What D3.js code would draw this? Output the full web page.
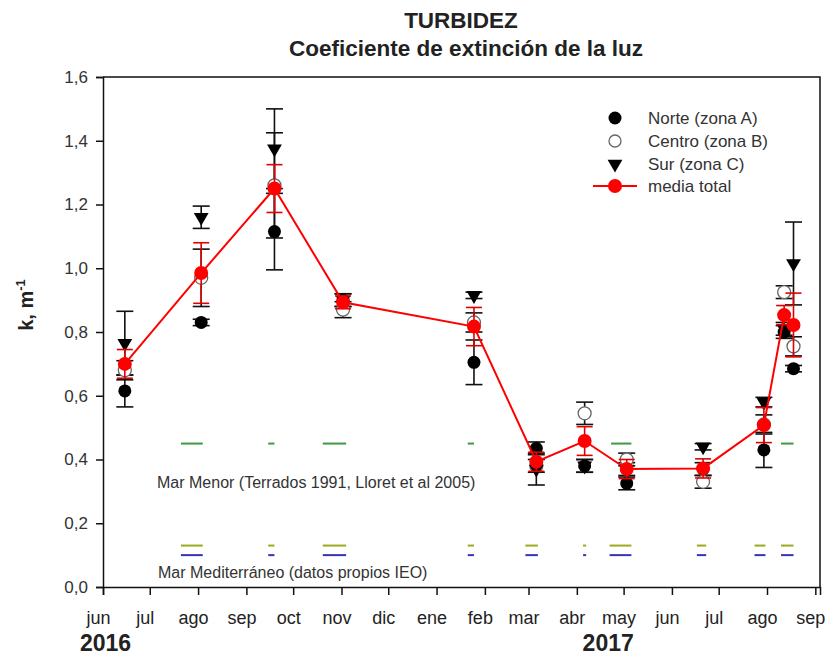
<!DOCTYPE html>
<html>
<head>
<meta charset="utf-8">
<script src="https://cdn.jsdelivr.net/npm/d3@7"></script>
<style>
  html, body { margin: 0; padding: 0; background: #fff; }
  svg { display: block; font-family: Arial, "Liberation Sans", sans-serif; }
</style>
</head>
<body>
<svg id="chart" width="827" height="657"></svg>
<script>
// Sampling dates (campaigns)
const sampleDates = ["2016-06-15","2016-08-03","2016-09-19","2016-11-02","2017-01-25","2017-03-06",
                     "2017-04-06","2017-05-03","2017-06-21","2017-07-30","2017-08-12","2017-08-18"];

// Light extinction coefficient k (m^-1) per zone, with error
const norteVals  = [0.615, 0.83, 1.115, 0.90, 0.705, 0.435, 0.38, 0.325, 0.37, 0.43, 0.80, 0.685];
const norteErr   = [0.05, 0.01, 0.12, 0.02, 0.07, 0.02, 0.02, 0.02, 0.02, 0.055, 0.02, 0.01];
const centroVals = [0.68, 0.97, 1.26, 0.87, 0.83, 0.38, 0.545, 0.40, 0.33, 0.51, 0.925, 0.755];
const centroErr  = [0.03, 0.09, 0.165, 0.025, 0.03, 0.02, 0.035, 0.02, 0.02, 0.03, 0.02, 0.03];
const surVals    = [0.765, 1.16, 1.375, 0.90, 0.915, 0.37, 0.38, 0.37, 0.44, 0.58, 0.81, 1.015];
const surErr     = [0.10, 0.035, 0.125, 0.02, 0.01, 0.05, 0.02, 0.02, 0.01, 0.015, 0.02, 0.13];
const mediaVals  = [0.70, 0.985, 1.25, 0.893, 0.817, 0.393, 0.458, 0.37, 0.372, 0.508, 0.853, 0.822];
const mediaErr   = [0.045, 0.095, 0.075, 0.02, 0.06, 0.03, 0.045, 0.03, 0.03, 0.055, 0.03, 0.10];

// Reference levels
const marMenorLevel = 0.45;
const marMenorSegments = [["2016-07-21","2016-08-04"],["2016-09-15","2016-09-19"],["2016-10-20","2016-11-04"],
                          ["2017-01-21","2017-01-25"],["2017-04-23","2017-05-06"],["2017-08-10","2017-08-18"]];
const medLevels = [0.13, 0.10];
const medSegments = [["2016-07-21","2016-08-04"],["2016-09-15","2016-09-19"],["2016-10-20","2016-11-04"],
                     ["2017-01-21","2017-01-25"],["2017-02-27","2017-03-07"],["2017-04-05","2017-04-07"],
                     ["2017-04-22","2017-05-06"],["2017-06-17","2017-06-23"],["2017-07-24","2017-07-31"],
                     ["2017-08-10","2017-08-18"]];

const monthLabels = ["jun","jul","ago","sep","oct","nov","dic","ene","feb","mar","abr","may","jun","jul","ago","sep"];
const yearLabels = ["2016","2017"];
const yTicks = [0, 0.2, 0.4, 0.6, 0.8, 1.0, 1.2, 1.4, 1.6];
const legendLabels = ["Norte (zona A)","Centro (zona B)","Sur (zona C)","media total"];

const parse = d3.utcParse("%Y-%m-%d");
const dates = sampleDates.map(parse);

const svg = d3.select("#chart");
const L = 103, R = 820, T = 77, B = 587;

const x = d3.scaleUtc().domain([new Date(Date.UTC(2016,5,1)), new Date(Date.UTC(2017,8,4))]).range([L, R]);
const y = d3.scaleLinear().domain([0, 1.6]).range([B, T]);

const es = d3.formatLocale({decimal: ",", thousands: ".", grouping: [3], currency: ["", "€"]});
const fmt = es.format(".1f");

// Title
svg.append("text").attr("x", 461).attr("y", 28).attr("text-anchor", "middle")
  .attr("font-size", 22.5).attr("font-weight", "bold").attr("fill", "#222").text("TURBIDEZ");
svg.append("text").attr("x", 466).attr("y", 56).attr("text-anchor", "middle")
  .attr("font-size", 22.5).attr("font-weight", "bold").attr("fill", "#222").text("Coeficiente de extinción de la luz");

// Frame
svg.append("path").attr("d", `M${L},${T}H${R}V${B}`).attr("fill", "none").attr("stroke", "#111").attr("stroke-width", 1.5);

// Axes
const monthTicks = d3.utcMonth.range(new Date(Date.UTC(2016,5,1)), new Date(Date.UTC(2017,8,2)));
const xAxis = svg.append("g").attr("transform", `translate(0,${B})`)
  .call(d3.axisBottom(x).tickValues(monthTicks).tickSizeOuter(0).tickSize(8).tickPadding(16)
    .tickFormat((d, i) => monthLabels[i]));
xAxis.select(".domain").attr("stroke", "#111").attr("stroke-width", 1.5);
xAxis.selectAll(".tick line").attr("stroke", "#111").attr("stroke-width", 1.5);
xAxis.selectAll(".tick text").attr("font-size", 18).attr("fill", "#222").attr("dx", -5)
  .attr("font-family", "Arial, 'Liberation Sans', sans-serif");

const yAxis = svg.append("g").attr("transform", `translate(${L},0)`)
  .call(d3.axisLeft(y).tickValues(yTicks).tickSizeOuter(0).tickSize(7).tickPadding(8).tickFormat(fmt));
yAxis.select(".domain").attr("stroke", "#111").attr("stroke-width", 1.5);
yAxis.selectAll(".tick line").attr("stroke", "#111").attr("stroke-width", 1.5);
yAxis.selectAll(".tick text").attr("font-size", 17).attr("fill", "#333")
  .attr("font-family", "Arial, 'Liberation Sans', sans-serif");

// Year labels
const yearX = [new Date(Date.UTC(2016,5,1)), new Date(Date.UTC(2017,4,1))];
svg.selectAll(".year").data(yearLabels).join("text").attr("class", "year")
  .attr("x", (d, i) => x(yearX[i]) - 23 + (i ? -18 : 0)).attr("y", 651)
  .attr("font-size", 23).attr("font-weight", "bold").attr("fill", "#222").text(d => d);

// Y axis title
const yt = svg.append("text").attr("transform", "translate(33,305) rotate(-90)")
  .attr("text-anchor", "middle").attr("font-size", 20).attr("font-weight", "bold").attr("fill", "#222");
yt.append("tspan").text("k, m");
yt.append("tspan").attr("dy", -8).attr("font-size", 13).text("-1");

// Reference lines
svg.append("g").selectAll("line").data(marMenorSegments).join("line")
  .attr("x1", d => x(parse(d[0]))).attr("x2", d => x(parse(d[1])))
  .attr("y1", y(marMenorLevel)).attr("y2", y(marMenorLevel))
  .attr("stroke", "#3f9a3f").attr("stroke-width", 2);
const medColors = ["#9aaa1e", "#3434b4"];
medLevels.forEach((lv, k) => {
  svg.append("g").selectAll("line").data(medSegments).join("line")
    .attr("x1", d => x(parse(d[0]))).attr("x2", d => x(parse(d[1])))
    .attr("y1", y(lv)).attr("y2", y(lv))
    .attr("stroke", medColors[k]).attr("stroke-width", 2);
});
svg.append("text").attr("x", 157).attr("y", 488).attr("font-size", 16).attr("fill", "#333")
  .text("Mar Menor (Terrados 1991, Lloret et al 2005)");
svg.append("text").attr("x", 158).attr("y", 578).attr("font-size", 16).attr("fill", "#333")
  .text("Mar Mediterráneo (datos propios IEO)");

// Error bars helper
function errorBars(vals, errs, color, cap) {
  const g = svg.append("g").attr("stroke", color).attr("stroke-width", 1.6);
  vals.forEach((v, i) => {
    const cx = x(dates[i]), y1 = y(v + errs[i]), y0 = y(v - errs[i]);
    g.append("line").attr("x1", cx).attr("x2", cx).attr("y1", y1).attr("y2", y0);
    g.append("line").attr("x1", cx - cap).attr("x2", cx + cap).attr("y1", y1).attr("y2", y1);
    g.append("line").attr("x1", cx - cap).attr("x2", cx + cap).attr("y1", y0).attr("y2", y0);
  });
}
const tri = d3.symbol().type(d3.symbolTriangle).size(95);

errorBars(norteVals, norteErr, "#111", 8.5);
errorBars(centroVals, centroErr, "#111", 8.5);
errorBars(surVals, surErr, "#111", 8.5);

svg.append("g").selectAll("circle").data(norteVals).join("circle")
  .attr("cx", (d, i) => x(dates[i])).attr("cy", d => y(d)).attr("r", 6.5).attr("fill", "#000");
svg.append("g").selectAll("circle").data(centroVals).join("circle")
  .attr("cx", (d, i) => x(dates[i])).attr("cy", d => y(d)).attr("r", 6.5)
  .attr("fill", "#fff").attr("stroke", "#666").attr("stroke-width", 1.3);
svg.append("g").selectAll("path").data(surVals).join("path")
  .attr("d", tri).attr("transform", (d, i) => `translate(${x(dates[i])},${y(d)}) rotate(180)`).attr("fill", "#000");

// Mean line
errorBars(mediaVals, mediaErr, "#e00000", 8);
const line = d3.line().x((d, i) => x(dates[i])).y(d => y(d));
svg.append("path").datum(mediaVals).attr("d", line).attr("fill", "none").attr("stroke", "#ff0000").attr("stroke-width", 2);
svg.append("g").selectAll("circle").data(mediaVals).join("circle")
  .attr("cx", (d, i) => x(dates[i])).attr("cy", d => y(d)).attr("r", 7).attr("fill", "#ff0000");

// Legend
const lg = svg.append("g");
const rowsY = [118, 141, 164, 186];
const mx = 615;
lg.append("circle").attr("cx", mx).attr("cy", rowsY[0]).attr("r", 6.5).attr("fill", "#000");
lg.append("circle").attr("cx", mx).attr("cy", rowsY[1]).attr("r", 6).attr("fill", "#fff").attr("stroke", "#666").attr("stroke-width", 1.3);
lg.append("path").attr("d", tri).attr("transform", `translate(${mx},${rowsY[2]}) rotate(180)`).attr("fill", "#000");
lg.append("line").attr("x1", 593).attr("x2", 637).attr("y1", rowsY[3]).attr("y2", rowsY[3]).attr("stroke", "#ff0000").attr("stroke-width", 2);
lg.append("circle").attr("cx", mx).attr("cy", rowsY[3]).attr("r", 7).attr("fill", "#ff0000");
lg.selectAll("text").data(legendLabels).join("text")
  .attr("x", 648).attr("y", (d, i) => rowsY[i] + 6).attr("font-size", 17).attr("fill", "#333").text(d => d);
</script>
</body>
</html>
